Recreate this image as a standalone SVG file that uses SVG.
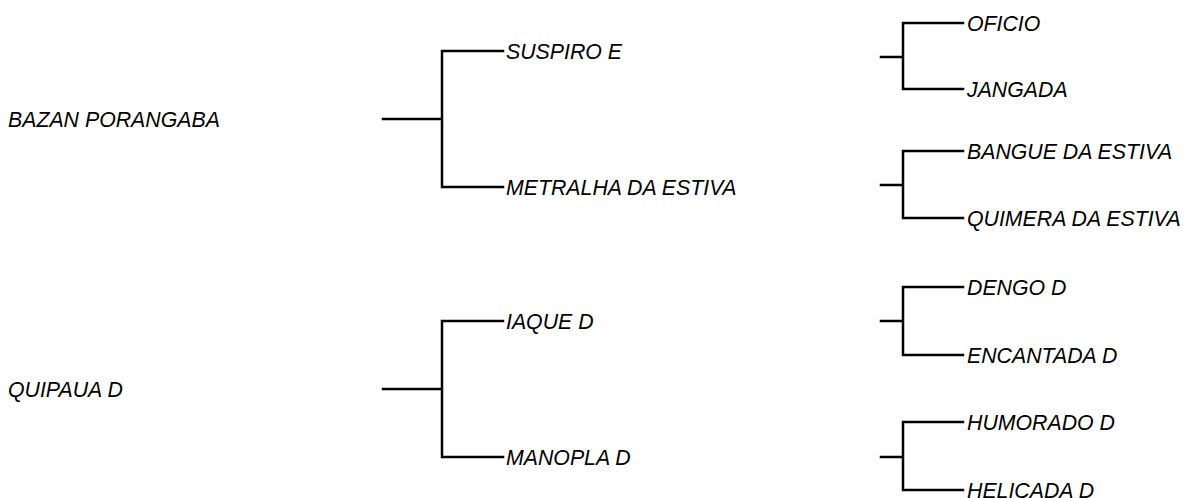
<svg xmlns="http://www.w3.org/2000/svg" width="1187" height="498" viewBox="0 0 1187 498">
<style>
.lbl{font-family:"Liberation Sans",Arial,sans-serif;font-size:21.3px;font-style:italic;fill:#000}
.ln{stroke:#000;stroke-width:2.5;fill:none;stroke-linecap:square;stroke-linejoin:miter}
</style>
<rect width="1187" height="498" fill="#fff"/>
<g id="connectors">
<path class="ln" d="M383,119 H442 M442,51 V187 M442,51 H503 M442,187 H503"/>
<path class="ln" d="M383,389 H442 M442,321 V457 M442,321 H503 M442,457 H503"/>
<path class="ln" d="M881,57 H903 M903,23 V89 M903,23 H963 M903,89 H963"/>
<path class="ln" d="M881,185 H903 M903,151 V218 M903,151 H963 M903,218 H963"/>
<path class="ln" d="M881,321 H903 M903,287 V355 M903,287 H963 M903,355 H963"/>
<path class="ln" d="M881,457 H903 M903,422 V490 M903,422 H963 M903,490 H963"/>
</g>
<g id="n-bazan"><text class="lbl" x="8" y="126.5">BAZAN PORANGABA</text></g>
<g id="n-quipaua"><text class="lbl" x="8" y="396.5">QUIPAUA D</text></g>
<g id="n-suspiro"><text class="lbl" x="506" y="58.5">SUSPIRO E</text></g>
<g id="n-metralha"><text class="lbl" x="506" y="194.5">METRALHA DA ESTIVA</text></g>
<g id="n-iaque"><text class="lbl" x="506" y="328.5">IAQUE D</text></g>
<g id="n-manopla"><text class="lbl" x="506" y="464.5">MANOPLA D</text></g>
<g id="n-oficio"><text class="lbl" x="967" y="30.5">OFICIO</text></g>
<g id="n-jangada"><text class="lbl" x="967" y="96.5">JANGADA</text></g>
<g id="n-bangue"><text class="lbl" x="967" y="158.5">BANGUE DA ESTIVA</text></g>
<g id="n-quimera"><text class="lbl" x="967" y="225.5">QUIMERA DA ESTIVA</text></g>
<g id="n-dengo"><text class="lbl" x="967" y="294.5">DENGO D</text></g>
<g id="n-encantada"><text class="lbl" x="967" y="362.5">ENCANTADA D</text></g>
<g id="n-humorado"><text class="lbl" x="967" y="429.5">HUMORADO D</text></g>
<g id="n-helicada"><text class="lbl" x="967" y="497.5">HELICADA D</text></g>
</svg>
